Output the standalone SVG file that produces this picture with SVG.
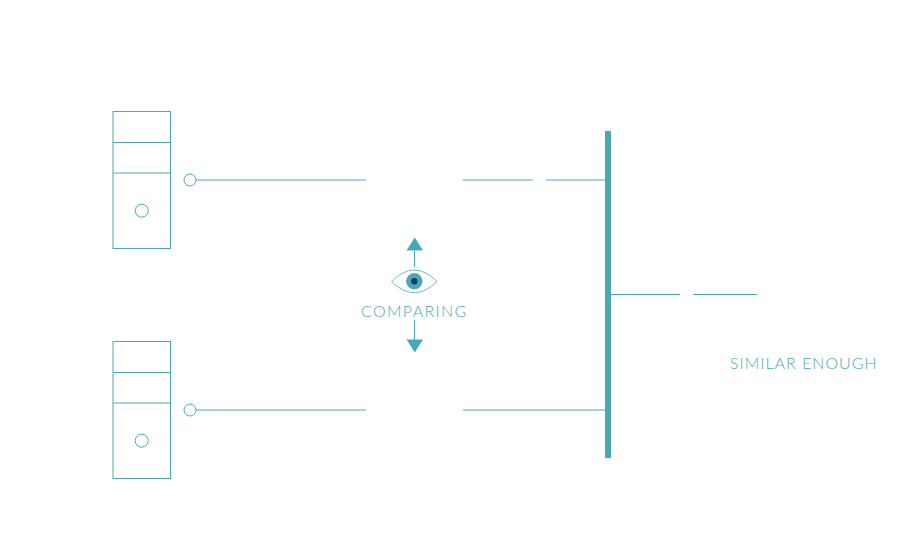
<svg xmlns="http://www.w3.org/2000/svg" width="910" height="536" viewBox="0 0 910 536">
<defs><style>
.s{fill:none;stroke:#4aa8b5;stroke-width:1}
.c{fill:#fff;stroke:#4aa8b5;stroke-width:1}
.l{fill:none;stroke:#4aa8b5;stroke-width:1}
.f{fill:#4aa8b5}
text{font-family:"Lato","Open Sans","Liberation Sans",sans-serif;font-weight:300;font-size:16px;fill:#4aa8b5;letter-spacing:1.35px}
</style></defs>
<rect width="910" height="536" fill="#fff"/>
<g id="connectors">
<path class="l" d="M196 180H366M463 180H533M546 180H606M196 410H366M463 410H606M611 294.500H680M693 294.500H757"/>
<path class="l" d="M414.500 251V267M414.500 320V340"/>
</g>
<g id="node-top">
<rect class="s" x="113" y="111.500" width="57.500" height="137"/>
<path class="s" d="M113 142.500H170.500M113 173H170.500"/>
<circle class="c" cx="141.700" cy="210.700" r="6.500"/>
<circle class="c" cx="190" cy="180" r="6"/>
</g>
<g id="node-bottom">
<rect class="s" x="113" y="341.500" width="57.500" height="137"/>
<path class="s" d="M113 372.500H170.500M113 403H170.500"/>
<circle class="c" cx="141.700" cy="440.700" r="6.500"/>
<circle class="c" cx="190" cy="410" r="6"/>
</g>
<g id="node-bar"><rect class="f" x="605" y="131" width="6" height="327"/></g>
<g id="node-comparing">
<path class="f" d="M414.800 237.500L423 250.500H406.500Z"/>
<path class="f" d="M414.800 352.500L423 339.500H406.500Z"/>
<path fill="none" stroke="#4aa8b5" stroke-width="0.800" d="M391.500 281.500Q414.500 258.500 437 281.500Q414.500 304 391.500 281.500Z"/>
<circle class="f" cx="414.300" cy="281.300" r="8.200"/>
<circle cx="414.300" cy="281.300" r="3.200" fill="#0d3a6e"/>
<text x="361" y="317">COMPARING</text>
</g>
<g id="node-similar"><text x="730" y="369" style="letter-spacing:1px">SIMILAR ENOUGH</text></g>
</svg>
